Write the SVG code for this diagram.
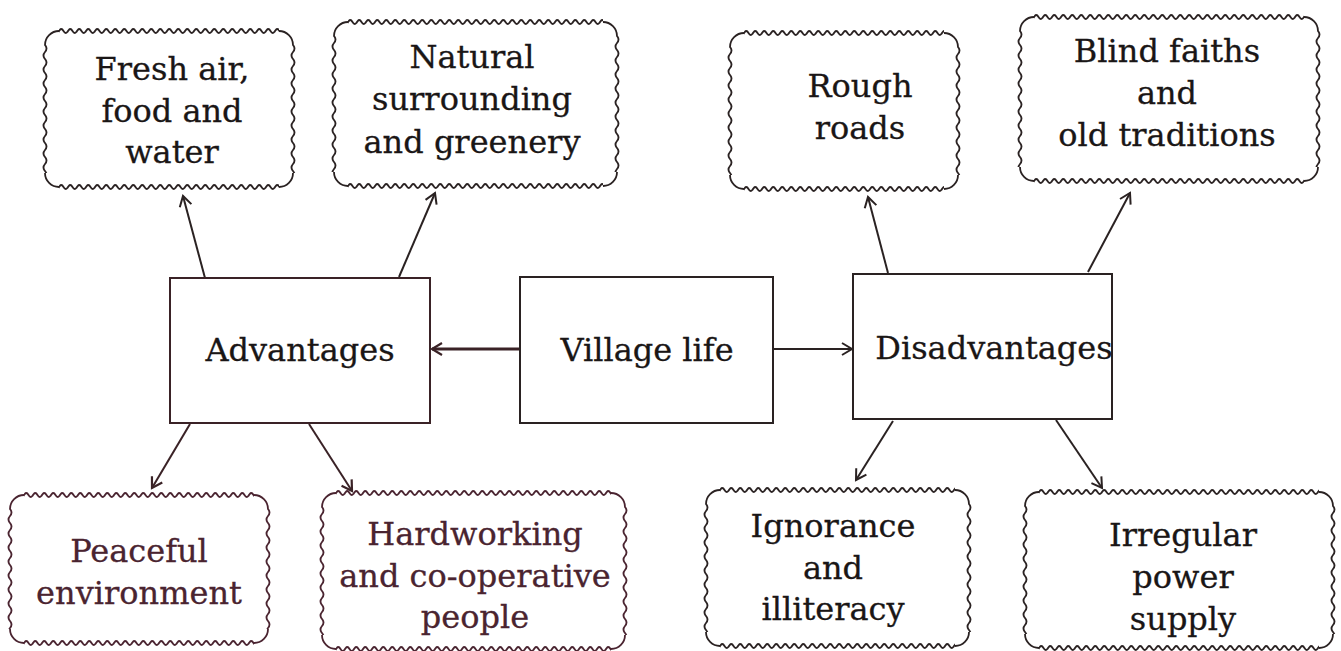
<svg xmlns="http://www.w3.org/2000/svg" width="1341" height="651" viewBox="0 0 1341 651">
<style>
.bg{fill:#ffffff}
.corner{fill:none;stroke:#2a2222;stroke-width:1.8}
.corner.m{stroke:#4a2430}
.wh{fill:url(#wh)}
.wv{fill:url(#wv)}
.whm{fill:url(#whm)}
.wvm{fill:url(#wvm)}
.box{fill:none;stroke:#2a2222;stroke-width:2}
.t{font-family:"DejaVu Serif","Liberation Serif",serif;font-size:32px;fill:#1a1616;stroke:#1a1616;stroke-width:0.3;text-anchor:middle}
.t.m{fill:#4a2430;stroke:#4a2430}
.c{fill:none;stroke:#2a2222;stroke-width:2;marker-end:url(#ah)}
.c.m{stroke:#3a2226;marker-end:url(#ahm)}
</style>
<defs>
<marker id="ah" markerUnits="userSpaceOnUse" markerWidth="14" markerHeight="14" refX="10" refY="6" orient="auto" overflow="visible"><path d="M0 0 L10 6 L0 12" fill="none" stroke="#2a2222" stroke-width="2"/></marker>
<marker id="ahm" markerUnits="userSpaceOnUse" markerWidth="14" markerHeight="14" refX="10" refY="6" orient="auto" overflow="visible"><path d="M0 0 L10 6 L0 12" fill="none" stroke="#3a2226" stroke-width="2.2"/></marker>
<pattern id="wh" patternUnits="userSpaceOnUse" width="9" height="8"><path d="M-4.5 4 q2.25 4 4.5 0 t4.5 0 4.5 0 4.5 0" fill="none" stroke="#2a2222" stroke-width="1.8"/></pattern>
<pattern id="wv" patternUnits="userSpaceOnUse" width="8" height="14"><path d="M4 -7 q-3 3.5 0 7 t0 7 0 7 0 7" fill="none" stroke="#2a2222" stroke-width="1.8"/></pattern>
<pattern id="whm" patternUnits="userSpaceOnUse" width="9" height="8"><path d="M-4.5 4 q2.25 4 4.5 0 t4.5 0 4.5 0 4.5 0" fill="none" stroke="#4a2430" stroke-width="1.8"/></pattern>
<pattern id="wvm" patternUnits="userSpaceOnUse" width="8" height="14"><path d="M4 -7 q-3 3.5 0 7 t0 7 0 7 0 7" fill="none" stroke="#4a2430" stroke-width="1.8"/></pattern>
</defs>
<rect class="bg" x="0" y="0" width="1341" height="651"/>

<g id="connectors">
<path class="c m" d="M520 349 L432 349" style="stroke-width:3"/>
<path class="c" d="M773 349 L852 349"/>
<path class="c" d="M205 278 L183 196"/>
<path class="c" d="M399 277 L435 193"/>
<path class="c m" d="M190 424 L152 488"/>
<path class="c m" d="M309 424 L352 491"/>
<path class="c" d="M888 273 L868 197"/>
<path class="c" d="M1088 272 L1130 193"/>
<path class="c" d="M893 421 L856 480"/>
<path class="c" d="M1056 420 L1102 488"/>
</g>

<g id="node-advantages">
<rect class="box" x="170" y="278" width="260" height="145" style="stroke:#3a2226"/>
<text class="t" x="300" y="361">Advantages</text>
</g>
<g id="node-village-life">
<rect class="box" x="520" y="277" width="253" height="146"/>
<text class="t" x="647" y="361">Village life</text>
</g>
<g id="node-disadvantages">
<rect class="box" x="853" y="274" width="259" height="145"/>
<text class="t" x="994" y="359">Disadvantages</text>
</g>

<g id="node-fresh-air">
<rect class="wh" transform="translate(59,27)" width="220" height="8"/>
<rect class="wh" transform="translate(59,183)" width="220" height="8"/>
<rect class="wv" transform="translate(41,45)" width="8" height="128"/>
<rect class="wv" transform="translate(289,45)" width="8" height="128"/>
<path class="corner" d="M45 45 a14 14 0 0 1 14 -14 M279 31 a14 14 0 0 1 14 14 M293 173 a14 14 0 0 1 -14 14 M59 187 a14 14 0 0 1 -14 -14"/>
<text class="t" x="172" y="80">Fresh air,</text>
<text class="t" x="172" y="122">food and</text>
<text class="t" x="172" y="163">water</text>
</g>

<g id="node-natural">
<rect class="wh" transform="translate(348,18)" width="255" height="8"/>
<rect class="wh" transform="translate(348,182)" width="255" height="8"/>
<rect class="wv" transform="translate(330,36)" width="8" height="136"/>
<rect class="wv" transform="translate(613,36)" width="8" height="136"/>
<path class="corner" d="M334 36 a14 14 0 0 1 14 -14 M603 22 a14 14 0 0 1 14 14 M617 172 a14 14 0 0 1 -14 14 M348 186 a14 14 0 0 1 -14 -14"/>
<text class="t" x="472" y="68">Natural</text>
<text class="t" x="472" y="110">surrounding</text>
<text class="t" x="472" y="153">and greenery</text>
</g>

<g id="node-rough-roads">
<rect class="wh" transform="translate(744,29)" width="200" height="8"/>
<rect class="wh" transform="translate(744,185)" width="200" height="8"/>
<rect class="wv" transform="translate(726,47)" width="8" height="128"/>
<rect class="wv" transform="translate(954,47)" width="8" height="128"/>
<path class="corner" d="M730 47 a14 14 0 0 1 14 -14 M944 33 a14 14 0 0 1 14 14 M958 175 a14 14 0 0 1 -14 14 M744 189 a14 14 0 0 1 -14 -14"/>
<text class="t" x="860" y="97">Rough</text>
<text class="t" x="860" y="139">roads</text>
</g>

<g id="node-blind-faiths">
<rect class="wh" transform="translate(1034,13)" width="270" height="8"/>
<rect class="wh" transform="translate(1034,177)" width="270" height="8"/>
<rect class="wv" transform="translate(1016,31)" width="8" height="136"/>
<rect class="wv" transform="translate(1314,31)" width="8" height="136"/>
<path class="corner" d="M1020 31 a14 14 0 0 1 14 -14 M1304 17 a14 14 0 0 1 14 14 M1318 167 a14 14 0 0 1 -14 14 M1034 181 a14 14 0 0 1 -14 -14"/>
<text class="t" x="1167" y="62">Blind faiths</text>
<text class="t" x="1167" y="104">and</text>
<text class="t" x="1167" y="146">old traditions</text>
</g>

<g id="node-peaceful">
<rect class="whm" transform="translate(24,491)" width="230" height="8"/>
<rect class="whm" transform="translate(24,639)" width="230" height="8"/>
<rect class="wvm" transform="translate(6,509)" width="8" height="120"/>
<rect class="wvm" transform="translate(264,509)" width="8" height="120"/>
<path class="corner m" d="M10 509 a14 14 0 0 1 14 -14 M254 495 a14 14 0 0 1 14 14 M268 629 a14 14 0 0 1 -14 14 M24 643 a14 14 0 0 1 -14 -14"/>
<text class="t m" x="139" y="562">Peaceful</text>
<text class="t m" x="139" y="604">environment</text>
</g>

<g id="node-hardworking">
<rect class="whm" transform="translate(336,489)" width="275" height="8"/>
<rect class="whm" transform="translate(336,645)" width="275" height="8"/>
<rect class="wvm" transform="translate(318,507)" width="8" height="128"/>
<rect class="wvm" transform="translate(621,507)" width="8" height="128"/>
<path class="corner m" d="M322 507 a14 14 0 0 1 14 -14 M611 493 a14 14 0 0 1 14 14 M625 635 a14 14 0 0 1 -14 14 M336 649 a14 14 0 0 1 -14 -14"/>
<text class="t m" x="475" y="545">Hardworking</text>
<text class="t m" x="475" y="587">and co-operative</text>
<text class="t m" x="475" y="628">people</text>
</g>

<g id="node-ignorance">
<rect class="wh" transform="translate(720,486)" width="235" height="8"/>
<rect class="wh" transform="translate(720,642)" width="235" height="8"/>
<rect class="wv" transform="translate(702,504)" width="8" height="128"/>
<rect class="wv" transform="translate(965,504)" width="8" height="128"/>
<path class="corner" d="M706 504 a14 14 0 0 1 14 -14 M955 490 a14 14 0 0 1 14 14 M969 632 a14 14 0 0 1 -14 14 M720 646 a14 14 0 0 1 -14 -14"/>
<text class="t" x="833" y="537">Ignorance</text>
<text class="t" x="833" y="579">and</text>
<text class="t" x="833" y="620">illiteracy</text>
</g>

<g id="node-irregular">
<rect class="wh" transform="translate(1039,488)" width="280" height="8"/>
<rect class="wh" transform="translate(1039,644)" width="280" height="8"/>
<rect class="wv" transform="translate(1021,506)" width="8" height="128"/>
<rect class="wv" transform="translate(1329,506)" width="8" height="128"/>
<path class="corner" d="M1025 506 a14 14 0 0 1 14 -14 M1319 492 a14 14 0 0 1 14 14 M1333 634 a14 14 0 0 1 -14 14 M1039 648 a14 14 0 0 1 -14 -14"/>
<text class="t" x="1183" y="546">Irregular</text>
<text class="t" x="1183" y="588">power</text>
<text class="t" x="1183" y="630">supply</text>
</g>
</svg>
